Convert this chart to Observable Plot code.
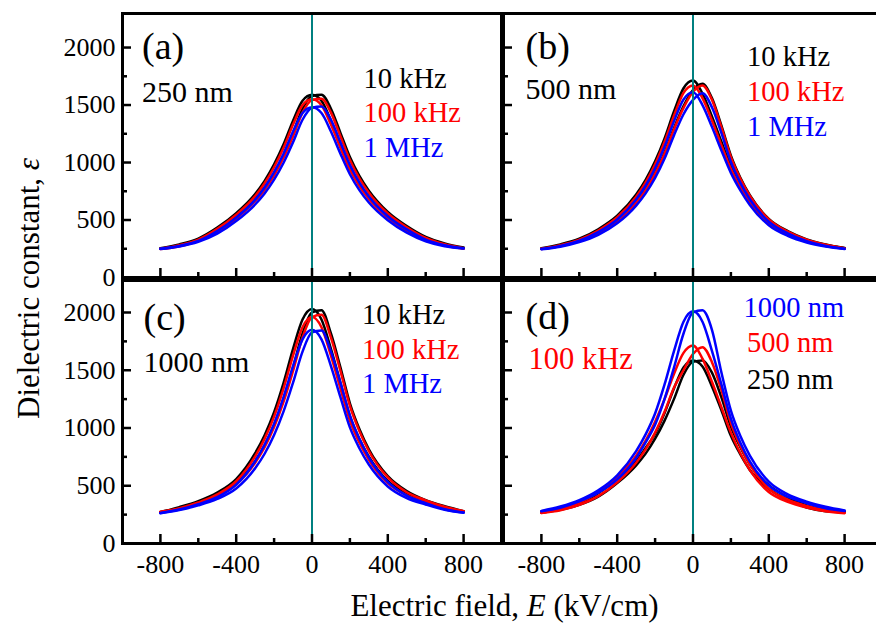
<!DOCTYPE html>
<html><head><meta charset="utf-8">
<script src="https://cdn.jsdelivr.net/npm/d3@7"></script>
<script src="https://cdn.jsdelivr.net/npm/@observablehq/plot@0.6"></script>
<style>
html,body{margin:0;padding:0;background:#fff;overflow:hidden;}
#wrap{position:relative;width:876px;height:625px;overflow:hidden;background:#fff;}
#wrap svg{position:absolute;left:0;top:0;max-width:none;background:transparent;}
#wrap svg text, #wrap svg tspan{font-family:"Liberation Serif","Times New Roman",Times,serif !important;}
</style></head><body><div id="wrap"></div>
<script>
// ---- data ----
const E = [-800,-700,-600,-500,-400,-300,-250,-200,-150,-100,-50,0,50,100,150,200,250,300,400,500,600,700,800];
// (a) 250 nm
const a10kRev  = [254,288,339,434,560,727,841,984,1158,1364,1538,1590,1538,1364,1158,964,816,701,535,419,332,285,254];
const a10kFwd  = [250,279,325,408,525,680,782,911,1068,1258,1468,1579,1590,1468,1258,1047,884,755,570,447,353,296,261];
const a100kRev = [250,281,330,423,546,708,820,959,1128,1330,1499,1550,1499,1330,1128,940,795,683,521,408,323,278,250];
const a100kFwd = [247,272,317,398,513,664,764,889,1043,1228,1434,1543,1555,1434,1228,1022,862,737,557,437,344,289,255];
const a1MRev   = [250,275,318,404,521,676,783,916,1077,1270,1431,1480,1431,1270,1077,898,760,652,498,390,315,272,252];
const a1MFwd   = [248,270,310,381,491,635,731,851,998,1176,1372,1476,1488,1372,1176,978,825,705,533,418,329,280,254];
// (b) 500 nm
const b10kRev  = [254,288,337,420,537,721,849,1010,1210,1446,1646,1713,1600,1400,1180,970,800,668,483,386,320,282,254];
const b10kFwd  = [250,276,318,390,495,657,769,910,1087,1301,1490,1630,1684,1560,1320,1060,868,716,510,403,332,288,256];
const b100kRev = [250,281,329,409,524,703,827,984,1180,1409,1605,1670,1560,1365,1150,945,786,654,472,376,313,275,250];
const b100kFwd = [248,274,316,387,491,651,762,903,1078,1290,1475,1615,1670,1545,1305,1046,858,709,506,399,329,285,254];
const b1MRev   = [248,274,320,395,505,678,798,950,1138,1360,1548,1611,1500,1310,1105,910,758,631,455,363,305,270,248];
const b1MFwd   = [246,268,308,371,471,625,732,866,1035,1238,1420,1545,1603,1480,1255,1004,823,681,485,384,316,274,250];
// (c) 1000 nm
const c10kRev  = [272,315,367,441,558,782,938,1137,1391,1685,1939,2030,1939,1685,1391,1103,905,751,541,432,362,312,276];
const c10kFwd  = [268,303,351,418,521,713,850,1028,1252,1525,1818,2000,2020,1818,1525,1214,992,816,584,454,375,322,280];
const c100kRev = [274,306,355,425,539,755,906,1098,1343,1627,1872,1960,1872,1627,1343,1065,874,725,523,417,358,307,280];
const c100kFwd = [270,300,347,410,511,699,834,1008,1228,1495,1782,1960,1980,1782,1495,1191,973,801,572,444,374,319,280];
const c1MRev   = [264,294,340,401,509,712,855,1036,1267,1536,1767,1850,1767,1536,1267,1005,825,684,494,393,338,292,266];
const c1MFwd   = [262,290,330,386,476,651,777,939,1144,1393,1661,1827,1845,1661,1393,1110,906,746,533,414,349,297,268];
// (d) 100 kHz, thickness comparison
const d250Rev  = [268,298,345,435,558,712,828,950,1130,1345,1525,1585,1533,1360,1154,932,771,637,474,377,311,280,272];
const d250Fwd  = [268,292,335,406,523,677,778,907,1064,1252,1461,1572,1585,1480,1265,1011,834,685,505,401,329,289,275];
const d500Rev  = [265,300,355,445,575,760,890,1055,1250,1470,1650,1714,1600,1400,1180,960,781,635,446,361,311,279,262];
const d500Fwd  = [265,288,335,410,530,700,815,960,1140,1350,1500,1640,1700,1570,1330,1042,845,683,475,380,325,288,266];
const d1000Rev = [282,320,375,460,590,800,945,1126,1377,1668,1920,2010,1920,1668,1377,1081,873,712,503,405,349,306,282];
const d1000Fwd = [280,310,365,440,555,740,875,1028,1252,1525,1818,2000,2020,1850,1480,1150,930,760,535,425,362,318,286];

const xMajor = [-800,-400,0,400,800];
const xMinor = [-600,-200,200,600];
const yMajor = [0,500,1000,1500,2000];
const yMinor = [250,750,1250,1750];
const panelTags = ["(a)","(b)","(c)","(d)"];
const thickness = ["250 nm","500 nm","1000 nm"];
const freqLabels = ["10 kHz","100 kHz","1 MHz"];
const dLegend = ["1000 nm","500 nm","250 nm"];
const dFreq = "100 kHz";
const xTitleParts = ["Electric field, ","E"," (kV/cm)"];
const yTitleParts = ["Dielectric constant, ","\u03B5"];

// ---- layout / style ----
const W = 882, H = 625;
const FONT = '"Liberation Serif", "Times New Roman", Times, serif';
const BLACK = "#000000", RED = "#ff0000", BLUE = "#0000ff", TEAL = "#008080";

const rows = (vals, branch) => E.map((e, i) => ({E: e, v: vals[i], branch}));

const panels = [
  {fl:122, ft:13, fw:379, fh:264, ymax:2296, xLab:false, yLab:true,
   series:[[BLACK,a10kRev,a10kFwd],[RED,a100kRev,a100kFwd],[BLUE,a1MRev,a1MFwd]],
   texts:[{t:panelTags[0],dx:19.5,dy:45,s:38,f:BLACK},{t:thickness[0],dx:19.5,dy:88.7,s:30,f:BLACK},
          {t:freqLabels[0],dx:241,dy:74.3,s:28.5,f:BLACK},{t:freqLabels[1],dx:241,dy:108.7,s:28.5,f:RED},{t:freqLabels[2],dx:241,dy:143.7,s:28.5,f:BLUE}]},
  {fl:503, ft:13, fw:379, fh:264, ymax:2296, xLab:false, yLab:false,
   series:[[BLACK,b10kRev,b10kFwd],[RED,b100kRev,b100kFwd],[BLUE,b1MRev,b1MFwd]],
   texts:[{t:panelTags[1],dx:22,dy:45,s:38,f:BLACK},{t:thickness[1],dx:22,dy:85.3,s:30,f:BLACK},
          {t:freqLabels[0],dx:243.5,dy:52,s:28.5,f:BLACK},{t:freqLabels[1],dx:243.5,dy:87,s:28.5,f:RED},{t:freqLabels[2],dx:243.5,dy:122,s:28.5,f:BLUE}]},
  {fl:122, ft:280, fw:379, fh:263, ymax:2277, xLab:true, yLab:true,
   series:[[BLACK,c10kRev,c10kFwd],[RED,c100kRev,c100kFwd],[BLUE,c1MRev,c1MFwd]],
   texts:[{t:panelTags[2],dx:21,dy:49,s:38,f:BLACK},{t:thickness[2],dx:21,dy:91.7,s:30,f:BLACK},
          {t:freqLabels[0],dx:239.5,dy:43.3,s:28.5,f:BLACK},{t:freqLabels[1],dx:239.5,dy:78.3,s:28.5,f:RED},{t:freqLabels[2],dx:239.5,dy:112.7,s:28.5,f:BLUE}]},
  {fl:503, ft:280, fw:379, fh:263, ymax:2277, xLab:true, yLab:false,
   series:[[BLACK,d250Rev,d250Fwd],[RED,d500Rev,d500Fwd],[BLUE,d1000Rev,d1000Fwd]],
   texts:[{t:panelTags[3],dx:22,dy:48,s:38,f:BLACK},{t:dFreq,dx:25,dy:88.3,s:30.5,f:RED},
          {t:dLegend[0],dx:240,dy:36.7,s:28.5,f:BLUE},{t:dLegend[1],dx:243.5,dy:71.7,s:28.5,f:RED},{t:dLegend[2],dx:243.5,dy:108.3,s:28.5,f:BLACK}]}
];

const wrap = document.getElementById("wrap");

for (const p of panels) {
  const marks = [];
  for (const [color, rev, fwd] of p.series) {
    marks.push(Plot.line([...rows(rev, "rev"), ...rows(fwd, "fwd")],
      {x: "E", y: "v", z: "branch", stroke: color, strokeWidth: 2.5, curve: "monotone-x"}));
  }
  marks.push(Plot.ruleX([0], {stroke: TEAL, strokeWidth: 2}));
  marks.push(Plot.frame({stroke: BLACK, strokeWidth: 3}));
  marks.push(Plot.tickX(xMajor, {x: d => d, insetTop: p.fh - 9, stroke: BLACK, strokeWidth: 2.5}));
  marks.push(Plot.tickX(xMinor, {x: d => d, insetTop: p.fh - 5, stroke: BLACK, strokeWidth: 2.5}));
  marks.push(Plot.tickY(yMajor, {y: d => d, insetRight: p.fw - 9, stroke: BLACK, strokeWidth: 2.5}));
  marks.push(Plot.tickY(yMinor, {y: d => d, insetRight: p.fw - 5, stroke: BLACK, strokeWidth: 2.5}));
  if (p.xLab) marks.push(Plot.axisX({ticks: xMajor, anchor: "bottom", tickSize: 0, tickPadding: 11.5,
      fontSize: 26, fontFamily: FONT, tickFormat: d => String(d), label: null, fill: BLACK}));
  if (p.yLab) marks.push(Plot.axisY({ticks: yMajor, anchor: "left", tickSize: 0, tickPadding: 7,
      fontSize: 26, fontFamily: FONT, tickFormat: d => String(d), label: null, fill: BLACK}));
  for (const t of p.texts) {
    marks.push(Plot.text([t.t], {text: d => d, frameAnchor: "top-left", dx: t.dx, dy: t.dy,
      textAnchor: "start", lineAnchor: "bottom", fontSize: t.s, fontFamily: FONT, fill: t.f}));
  }
  const chart = Plot.plot({
    width: W, height: H,
    marginLeft: p.fl, marginTop: p.ft, marginRight: W - p.fl - p.fw, marginBottom: H - p.ft - p.fh,
    x: Object.assign({domain: [-1000, 1000]}, p.xLab ? {} : {axis: null}),
    y: Object.assign({domain: [0, p.ymax]}, p.yLab ? {} : {axis: null}),
    style: {fontFamily: FONT, background: "transparent", overflow: "visible", color: BLACK},
    marks
  });
  wrap.appendChild(chart);
}

// axis titles
const titles = Plot.plot({
  width: W, height: H, marginLeft: 0, marginRight: 0, marginTop: 0, marginBottom: 0,
  style: {fontFamily: FONT, background: "transparent", overflow: "visible", color: BLACK},
  marks: [
    Plot.text([xTitleParts.join("")], {text: d => d, frameAnchor: "top-left", dx: 504, dy: 615,
      textAnchor: "middle", lineAnchor: "bottom", fontSize: 31, fontFamily: FONT, fill: BLACK}),
    Plot.text([yTitleParts.join("")], {text: d => d, frameAnchor: "top-left", dx: 38, dy: 288,
      rotate: -90, textAnchor: "middle", lineAnchor: "bottom", fontSize: 31, fontFamily: FONT, fill: BLACK})
  ]
});
wrap.appendChild(titles);
d3.select(titles).selectAll("text").each(function() {
  const s = d3.select(this);
  const c = this.textContent;
  if (c === xTitleParts.join("")) {
    s.text(null);
    s.append("tspan").text(xTitleParts[0]);
    s.append("tspan").attr("font-style", "italic").text(xTitleParts[1]);
    s.append("tspan").text(xTitleParts[2]);
  } else if (c === yTitleParts.join("")) {
    s.text(null);
    s.append("tspan").text(yTitleParts[0]);
    s.append("tspan").attr("font-style", "italic").text(yTitleParts[1]);
  }
});
</script></body></html>
